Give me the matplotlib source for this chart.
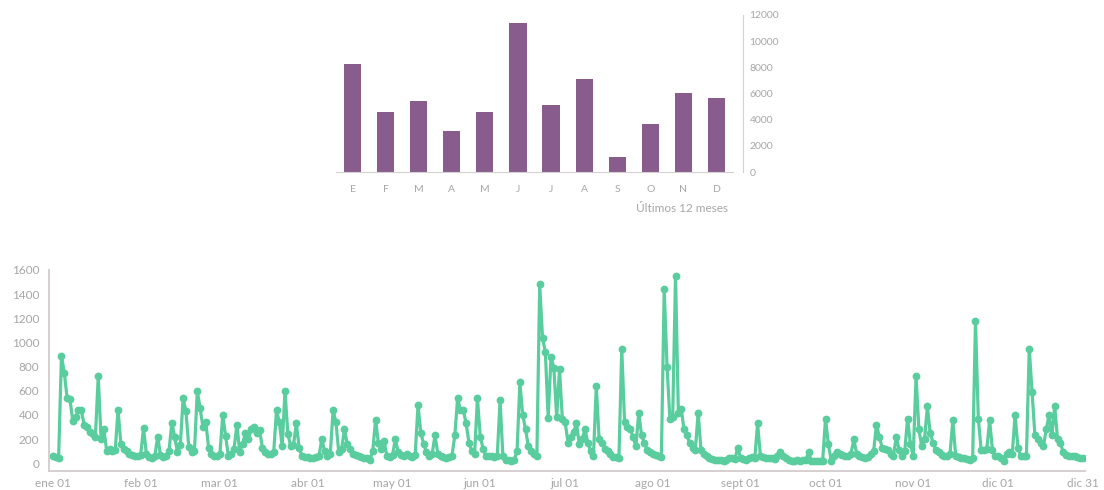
import numpy as np
import matplotlib.pyplot as plt

# monthly totals (top chart)
months_short = ['E', 'F', 'M', 'A', 'M', 'J', 'J', 'A', 'S', 'O', 'N', 'D']
monthly = [8290, 4590, 5400, 3110, 4590, 11390, 5100, 7140, 1150, 3650, 6040, 5690]

# daily values, one list per month
ene = [60, 50, 45, 890, 750, 540, 530, 350, 380, 440, 440, 320, 300, 260, 240, 220,
       720, 200, 280, 100, 120, 100, 110, 440, 160, 120, 100, 80, 70, 60, 60]
feb = [70, 290, 80, 50, 45, 60, 220, 70, 50, 60, 100, 335, 220, 90, 150, 540,
       430, 135, 90, 100, 600, 455, 300, 340, 130, 80, 60, 60]
mar = [80, 400, 225, 60, 80, 120, 320, 90, 160, 250, 200, 280, 300, 250, 275, 130,
       90, 80, 80, 90, 440, 340, 140, 600, 245, 140, 150, 330, 130, 60, 50]
abr = [50, 45, 40, 50, 60, 200, 100, 60, 80, 440, 340, 90, 120, 280, 160, 120,
       80, 70, 60, 50, 40, 40, 30, 100, 360, 170, 120, 185, 60, 50]
may = [70, 200, 90, 70, 60, 80, 60, 50, 70, 480, 250, 160, 90, 60, 80, 230,
       80, 60, 50, 40, 50, 60, 230, 540, 440, 440, 330, 170, 100, 80, 540]
jun = [220, 120, 60, 60, 60, 50, 60, 520, 60, 30, 25, 20, 30, 100, 670, 400,
       280, 140, 100, 80, 60, 1480, 1040, 920, 375, 880, 790, 380, 780, 370]
jul = [340, 170, 220, 260, 330, 160, 200, 280, 170, 100, 60, 640, 200, 170, 120, 100,
       80, 50, 50, 40, 950, 340, 300, 280, 220, 140, 420, 230, 170, 110, 90]
ago = [80, 70, 60, 50, 1440, 800, 370, 380, 1550, 420, 450, 280, 230, 170, 130, 110,
       420, 110, 80, 60, 40, 35, 30, 25, 25, 20, 30, 40, 40, 35, 130]
sep = [40, 35, 30, 40, 50, 40, 330, 60, 50, 45, 40, 40, 35, 60, 90, 60,
       40, 25, 20, 20, 25, 20, 25, 30, 90, 20, 15, 20, 20, 20]
oct_ = [370, 160, 20, 60, 90, 80, 70, 60, 60, 80, 200, 80, 60, 50, 40, 50,
        80, 100, 320, 220, 130, 120, 110, 80, 60, 220, 110, 60, 100, 370, 160]
nov = [60, 720, 280, 140, 200, 470, 250, 170, 110, 90, 70, 60, 60, 80, 355, 60,
       50, 40, 40, 35, 30, 40, 1180, 370, 110, 110, 120, 355, 110, 60]
dic = [60, 40, 20, 80, 90, 80, 400, 130, 60, 60, 60, 950, 590, 230, 200, 170,
       140, 280, 400, 230, 470, 200, 170, 90, 70, 60, 60, 60, 50, 40, 40]

daily = ene + feb + mar + abr + may + jun + jul + ago + sep + oct_ + nov + dic
tick_days = [0, 31, 59, 90, 120, 151, 181, 212, 243, 273, 304, 334, 364]
tick_labels = ['ene 01', 'feb 01', 'mar 01', 'abr 01', 'may 01', 'jun 01', 'jul 01',
               'ago 01', 'sept 01', 'oct 01', 'nov 01', 'dic 01', 'dic 31']

plt.rcParams['font.family'] = ['Lato', 'DejaVu Sans']
grey_txt = '#a6a6a6'
grey_line = '#d6cfcf'

fig = plt.figure(figsize=(11.04, 4.9), dpi=100)

# top: monthly bars
ax1 = fig.add_axes([336 / 1104, 1 - 172 / 490, 397 / 1104, 157 / 490])
ax1.bar(np.arange(12), monthly, width=0.52, color='#885c8c')
ax1.set_xlim(-0.5, 11.5)
ax1.set_ylim(0, 12000)
ax1.set_xticks(np.arange(12))
ax1.set_xticklabels(months_short)
ax1.set_yticks(np.arange(0, 12001, 2000))
ax1.yaxis.tick_right()
for s in ['top', 'left']:
    ax1.spines[s].set_visible(False)
ax1.spines['right'].set_position(('outward', 7))
ax1.spines['right'].set_color(grey_line)
ax1.spines['bottom'].set_color(grey_line)
ax1.tick_params(axis='both', length=0, colors=grey_txt, labelsize=7.5)
ax1.tick_params(axis='x', pad=9)
ax1.tick_params(axis='y', pad=5)
fig.text(728 / 1104, 1 - 208 / 490, 'Últimos 12 meses', ha='right', va='center',
         color=grey_txt, fontsize=8.5)

# bottom: daily line
ax2 = fig.add_axes([49 / 1104, 1 - 471 / 490, 1036 / 1104, 201 / 490])
ax2.plot(np.arange(len(daily)), daily, color='#5acd9e', linewidth=2.3,
         marker='o', markersize=4.6)
ax2.set_xlim(-1.4, 364.7)
ax2.set_ylim(-64, 1600)
ax2.set_yticks(np.arange(0, 1601, 200))
ax2.set_xticks(tick_days)
ax2.set_xticklabels(tick_labels)
for s in ['top', 'right']:
    ax2.spines[s].set_visible(False)
ax2.spines['left'].set_color(grey_line)
ax2.spines['bottom'].set_color(grey_line)
ax2.spines['left'].set_linewidth(1.4)
ax2.spines['bottom'].set_linewidth(1.4)
ax2.tick_params(axis='both', length=0, colors=grey_txt, labelsize=8.5)
ax2.tick_params(axis='y', pad=7)
ax2.tick_params(axis='x', pad=5)

fig.savefig('out.png', dpi=100)
